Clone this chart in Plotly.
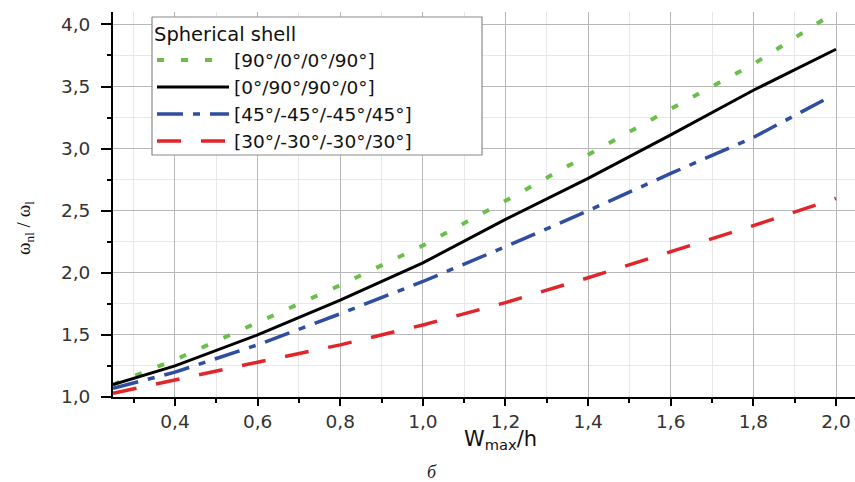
import plotly.graph_objects as go

x_vals = [0.25, 0.4, 0.6, 0.8, 1.0, 1.2, 1.4, 1.6, 1.8, 2.0]
x_end_short = [0.25, 0.4, 0.6, 0.8, 1.0, 1.2, 1.4, 1.6, 1.8, 1.97]

green_90_0_0_90 = [1.10, 1.30, 1.60, 1.90, 2.22, 2.58, 2.95, 3.32, 3.68, 4.04]
black_0_90_90_0 = [1.10, 1.25, 1.50, 1.78, 2.08, 2.43, 2.76, 3.11, 3.47, 3.80]
blue_45_m45 = [1.07, 1.20, 1.42, 1.67, 1.93, 2.21, 2.50, 2.80, 3.09, 3.39]
red_30_m30 = [1.03, 1.14, 1.28, 1.42, 1.58, 1.76, 1.96, 2.17, 2.38, 2.60]

names = ["[90°/0°/0°/90°]", "[0°/90°/90°/0°]",
         "[45°/-45°/-45°/45°]", "[30°/-30°/-30°/30°]"]

W, H = 855, 482
L, R, T, B = 113, 0, 12, 85
PW, PH = W - L - R, H - T - B
XR = [0.25, 2.046]
YR = [1.0, 4.1]


def px(xp):
    return (xp - L) / PW


def py(yp):
    return (H - B - yp) / PH


def dx(xp):
    return XR[0] + px(xp) * (XR[1] - XR[0])


def dy(yp):
    return YR[0] + py(yp) * (YR[1] - YR[0])


fig = go.Figure()

# legend frame (drawn under the legend, over the grid)
fig.add_trace(go.Scatter(
    x=[dx(152), dx(482), dx(482), dx(152), dx(152)],
    y=[dy(17), dy(17), dy(155), dy(155), dy(17)],
    mode="lines", fill="toself", fillcolor="white",
    line=dict(color="#8a8a8a", width=1.2), showlegend=False, hoverinfo="skip"))

fig.add_trace(go.Scatter(x=x_end_short, y=green_90_0_0_90, mode="lines", name=names[0],
                         line=dict(color="#6abf4b", width=4, dash="7px,17px")))
fig.add_trace(go.Scatter(x=x_vals, y=black_0_90_90_0, mode="lines", name=names[1],
                         line=dict(color="black", width=3)))
fig.add_trace(go.Scatter(x=x_end_short, y=blue_45_m45, mode="lines", name=names[2],
                         line=dict(color="#2f4ea0", width=3.5, dash="26px,10px,7px,10px")))
fig.add_trace(go.Scatter(x=x_vals, y=red_30_m30, mode="lines", name=names[3],
                         line=dict(color="#e0252b", width=3.5, dash="24px,20px")))

font = "DejaVu Sans, Verdana, sans-serif"
fig.update_layout(
    width=W, height=H,
    margin=dict(l=L, r=R, t=T, b=B),
    plot_bgcolor="white", paper_bgcolor="white",
    separators=",.",
    font=dict(family=font, size=18, color="#222"),
    showlegend=True,
    legend=dict(
        x=px(152), y=py(16), xanchor="left", yanchor="top",
        bgcolor="rgba(0,0,0,0)", borderwidth=0,
        title=dict(text="Spherical shell", font=dict(size=19.5, color="#111")),
        font=dict(size=18.5, color="#111"),
        itemwidth=72, tracegroupgap=0,
    ),
    xaxis=dict(
        range=XR, tick0=0.4, dtick=0.2, tickformat=".1f",
        showline=True, linecolor="black", linewidth=2,
        ticks="outside", ticklen=7, tickwidth=2, tickcolor="black",
        showgrid=True, gridcolor="#b8b8b8", gridwidth=1,
        minor=dict(dtick=0.1, tick0=0.3, ticks="outside", ticklen=4, tickwidth=2,
                   tickcolor="black", showgrid=True, gridcolor="#e8e8e8"),
        zeroline=False,
        tickfont=dict(size=18.5, color="#333"),
    ),
    yaxis=dict(
        range=YR, tick0=1.0, dtick=0.5, tickformat=".1f",
        showline=True, linecolor="black", linewidth=2,
        ticks="outside", ticklen=10, tickwidth=2, tickcolor="black",
        showgrid=True, gridcolor="#b8b8b8", gridwidth=1,
        minor=dict(dtick=0.25, ticks="outside", ticklen=4, tickwidth=2,
                   tickcolor="black", showgrid=True, gridcolor="#e8e8e8"),
        zeroline=False,
        ticklabelstandoff=7,
        tickfont=dict(size=18.5, color="#333"),
    ),
)

# axis titles placed as in the reference
fig.add_annotation(text="W<sub>max</sub>/h", xref="paper", yref="paper",
                   x=px(462), y=py(440), xanchor="left", yanchor="middle",
                   showarrow=False, font=dict(size=21, color="#111"))
fig.add_annotation(text="ω<sub>nl</sub> / ω<sub>l</sub>", xref="paper", yref="paper",
                   x=px(25), y=py(228), xanchor="center", yanchor="middle",
                   textangle=-90, showarrow=False,
                   font=dict(family="Liberation Serif, serif", size=19, color="#111"))
fig.add_annotation(text="<i>б</i>", xref="paper", yref="paper",
                   x=px(432), y=py(472),
                   showarrow=False, xanchor="center", yanchor="middle",
                   font=dict(family="Liberation Serif, Times New Roman, serif", size=18, color="#222"))

fig.write_html("out.html", config={"displayModeBar": False},
               post_script="document.body.style.margin='0';")
